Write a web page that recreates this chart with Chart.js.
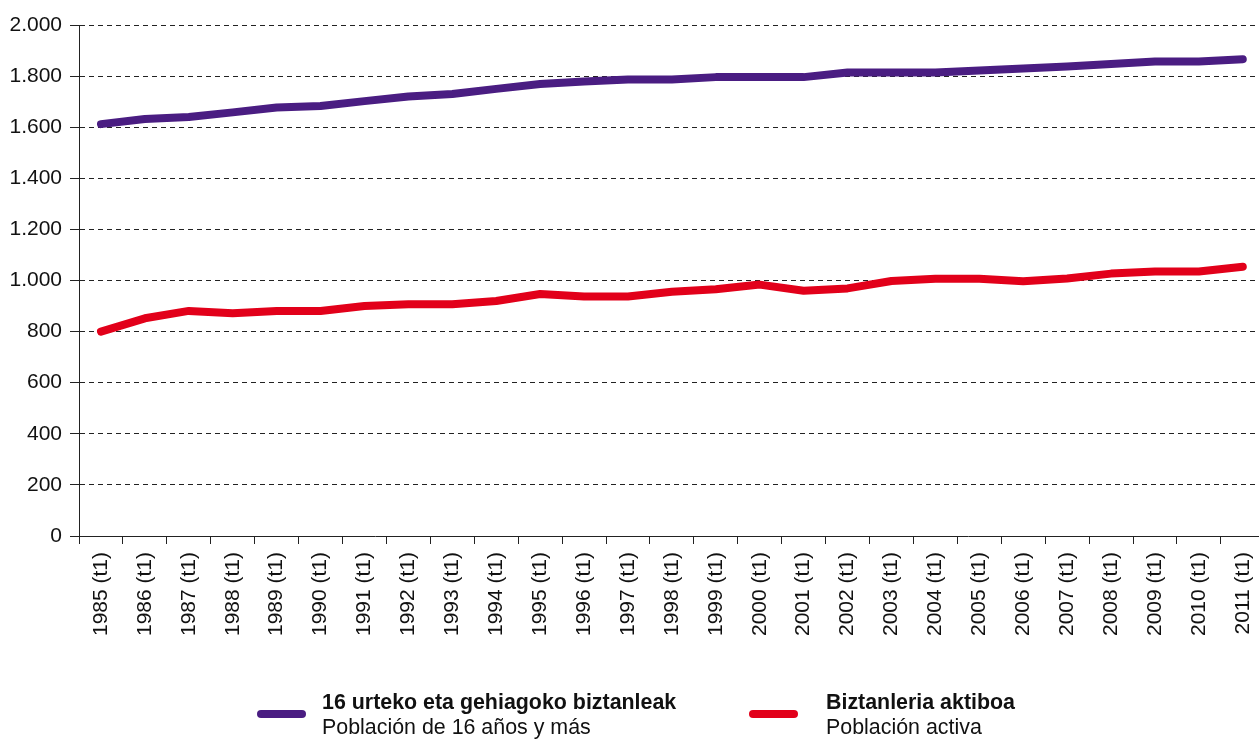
<!DOCTYPE html>
<html>
<head>
<meta charset="utf-8">
<script src="https://cdn.jsdelivr.net/npm/chart.js@4/dist/chart.umd.min.js"></script>
<style>
  html, body { margin: 0; padding: 0; background: #fff; overflow: hidden; width: 1259px; height: 740px; }
  #wrap { position: relative; width: 1259px; height: 740px; overflow: hidden; }
  canvas { position: absolute; left: 0; top: 0; }
  .leg { position: absolute; font-family: "Liberation Sans", Arial, Helvetica, sans-serif; color: #111; font-size: 21.4px; line-height: 25px; white-space: nowrap; }
  .leg b { font-weight: bold; display: block; }
  .sym { position: absolute; height: 8px; border-radius: 4px; }
</style>
</head>
<body>
<div id="wrap">
  <canvas id="c" width="1276" height="740"></canvas>
  <div class="sym" style="left:257px; top:710px; width:49px; background:#4a1d82;"></div>
  <div class="leg" style="left:322px; top:690px;"><b>16 urteko eta gehiagoko biztanleak</b>Población de 16 años y más</div>
  <div class="sym" style="left:749px; top:710px; width:49px; background:#e2001a;"></div>
  <div class="leg" style="left:826px; top:690px;"><b>Biztanleria aktiboa</b>Población activa</div>
</div>
<script>
const categories = ["1985 (t1)","1986 (t1)","1987 (t1)","1988 (t1)","1989 (t1)","1990 (t1)","1991 (t1)","1992 (t1)","1993 (t1)","1994 (t1)","1995 (t1)","1996 (t1)","1997 (t1)","1998 (t1)","1999 (t1)","2000 (t1)","2001 (t1)","2002 (t1)","2003 (t1)","2004 (t1)","2005 (t1)","2006 (t1)","2007 (t1)","2008 (t1)","2009 (t1)","2010 (t1)","2011 (t1)"];
const poblacion16 = [1612,1632,1640,1658,1677,1683,1702,1720,1730,1750,1769,1779,1787,1787,1796,1796,1796,1814,1814,1814,1822,1830,1838,1847,1857,1857,1866];
const poblacionActiva = [800,852,881,872,881,881,900,907,907,920,947,937,937,956,966,984,960,969,998,1007,1007,997,1008,1027,1035,1035,1054];
const seriesNames = ["16 urteko eta gehiagoko biztanleak / Población de 16 años y más", "Biztanleria aktiboa / Población activa"];
const yMin = 0, yMax = 2000, yStep = 200;

const FONT = "'Liberation Sans', Arial, Helvetica, sans-serif";
function fmt(v) { return String(v).replace(/\B(?=(\d{3})+(?!\d))/g, '.'); }

new Chart(document.getElementById('c'), {
  type: 'line',
  data: {
    labels: categories,
    datasets: [
      { label: seriesNames[0], data: poblacion16, borderColor: '#4a1d82', backgroundColor: '#4a1d82', borderWidth: 8, pointRadius: 0, tension: 0, borderCapStyle: 'round', borderJoinStyle: 'round', fill: false },
      { label: seriesNames[1], data: poblacionActiva, borderColor: '#e2001a', backgroundColor: '#e2001a', borderWidth: 8, pointRadius: 0, tension: 0, borderCapStyle: 'round', borderJoinStyle: 'round', fill: false }
    ]
  },
  options: {
    responsive: false,
    animation: false,
    layout: { padding: { top: 25, right: 0, bottom: 0, left: 0 } },
    plugins: { legend: { display: false }, tooltip: { enabled: false } },
    scales: {
      x: {
        offset: true,
        grid: { display: true, drawOnChartArea: false, drawTicks: true, tickLength: 8, color: '#222', offset: true },
        border: { display: true, color: '#222', width: 1 },
        ticks: { color: '#111', font: { family: FONT, size: 21 }, minRotation: 90, maxRotation: 90, autoSkip: false, padding: 8 },
        afterFit: s => { s.height = 204; }
      },
      y: {
        min: yMin, max: yMax,
        grid: { color: '#222', lineWidth: 1, tickLength: 9, tickColor: '#222', tickBorderDash: [], drawTicks: true },
        border: { display: true, color: '#222', width: 1, dash: [5, 4] },
        ticks: { stepSize: yStep, color: '#111', font: { family: FONT, size: 21 }, padding: 8, callback: v => fmt(v) },
        afterFit: s => { s.width = 79; }
      }
    }
  }
});
</script>
</body>
</html>
